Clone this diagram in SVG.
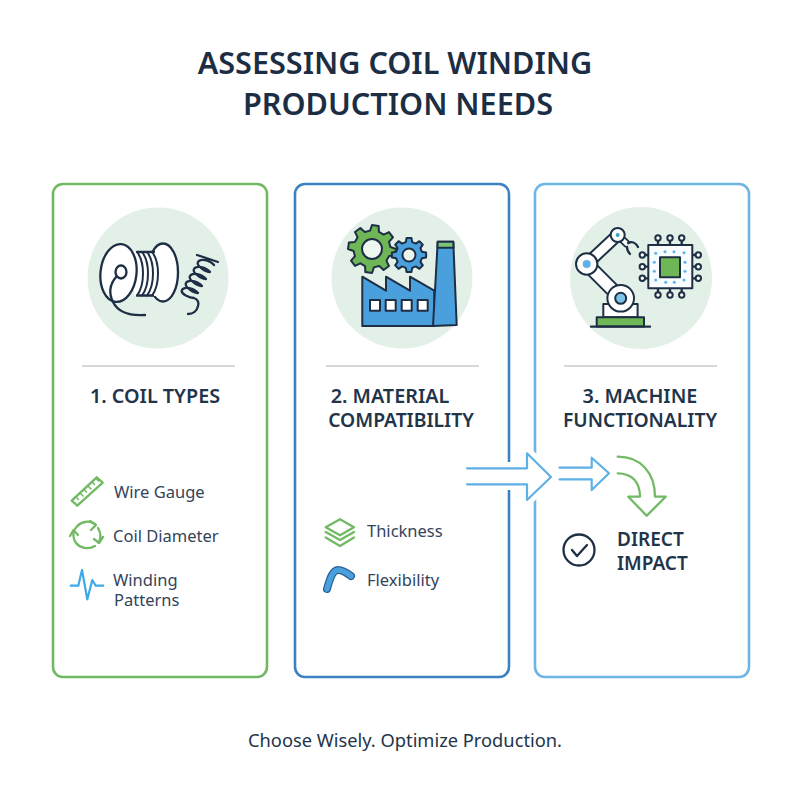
<svg xmlns="http://www.w3.org/2000/svg" width="800" height="800" viewBox="0 0 800 800">
<style>
text{font-family:"Noto Sans","Open Sans","Liberation Sans",sans-serif;fill:#22344a}
.title{font-size:30.600px;font-weight:600;text-anchor:middle;fill:#1c2e44}
.head{font-size:19.800px;font-weight:600;text-anchor:middle}
.head2{font-size:19.300px;font-weight:600;text-anchor:middle}
.item{font-size:16.500px;fill:#33445a}
.card{fill:#fff;stroke-width:2.600}
.disc{fill:#e3f0e8}
.rule{stroke:#c9cccc;stroke-width:1.600}
.ink{fill:none;stroke:#1e2f45;stroke-width:2.300;stroke-linecap:round;stroke-linejoin:round}
.solid{stroke:#1e2f45;stroke-width:2;stroke-linejoin:round}
.g{fill:none;stroke:#71ba63;stroke-width:2.300;stroke-linecap:round;stroke-linejoin:round}
.b{fill:none;stroke:#5fb0e6;stroke-width:2.200;stroke-linecap:round;stroke-linejoin:round}
.halo{fill:#fff;stroke:#fff;stroke-width:12}
.dot{fill:#5db4f0}
</style>
<defs>
<polygon id="gear" points="17.95,-4.48 23.77,-3.34 23.77,3.34 17.95,4.48 15.86,9.53 19.17,14.44 14.44,19.17 9.53,15.86 4.48,17.95 3.34,23.77 -3.34,23.77 -4.48,17.95 -9.53,15.86 -14.44,19.17 -19.17,14.44 -15.86,9.53 -17.95,4.48 -23.77,3.34 -23.77,-3.34 -17.95,-4.48 -15.86,-9.53 -19.17,-14.44 -14.44,-19.17 -9.53,-15.86 -4.48,-17.95 -3.34,-23.77 3.34,-23.77 4.48,-17.95 9.53,-15.86 14.44,-19.17 19.17,-14.44 15.86,-9.53"/>
</defs>
<rect width="800" height="800" fill="#fff"/>
<g id="title">
<text class="title" x="395" y="74">ASSESSING COIL WINDING</text>
<text class="title" x="398" y="115">PRODUCTION NEEDS</text>
</g>
<g id="card-1">
<rect class="card" x="53" y="184" width="214" height="493" rx="10" stroke="#71ba63"/>
<circle class="disc" cx="158" cy="278" r="70.500"/>
<g id="spool-icon">
<ellipse class="ink" style="fill:#fff" cx="163" cy="272.500" rx="15" ry="29"/>
<rect x="134" y="252" width="24" height="44" fill="#fff"/>
<path class="ink" d="M137 252H154M137 295.500H153"/>
<path class="ink" d="M137 252C145 262 145 285 137 295.500M142 252C150 262 150 285 142 295.500M147 252C155 262 155 285 147 295.500M152 252C160 262 160 285 152 295.500" style="stroke-width:2"/>
<ellipse class="ink" style="fill:#fff" cx="118.500" cy="273" rx="18" ry="29" transform="rotate(6 118.500 273)"/>
<ellipse class="ink" cx="121" cy="272" rx="5.500" ry="6.500"/>
<path class="ink" d="M116 277C111 283 108 292 113 302C118 312 130 316 145 315"/>
<path class="ink" d="M197 255L218 262M214 265c-4 -5 -14 -7 -16 -3c-2 4 8 10 12 10c-4 -5 -14 -7 -16 -3c-2 4 8 10 12 10c-4 -5 -14 -7 -16 -3c-2 4 8 10 12 10c-4 -5 -14 -7 -16 -3c-2 4 8 10 12 10c-4 -5 -14 -7 -16 -3c-2 4 8 8 12 8c4 1 5 5 4 8c-1 5 -5 8 -10 8"/>
</g>
<line class="rule" x1="82" y1="366" x2="235" y2="366"/>
<text class="head" x="155" y="403">1. COIL TYPES</text>
<g id="wire-gauge">
<polygon class="g" points="71.700,500.700 96.700,477.300 102.700,482.700 77.300,505.700"/>
<path class="g" style="stroke-width:1.500" d="M76 497l2.500 2.500M80 493l3 3M84 489.500l2.500 2.500M88 486l3 3M92 482l2.500 2.500M96 478.500l2.500 2.500"/>
<text class="item" x="114" y="498">Wire Gauge</text>
</g>
<g id="coil-diameter">
<path class="g" d="M75 529C80 521 89 520 95 524M98 528C101 533 101 538 99 542M95 546C88 550 80 548 76 543C74 540 73 536 73.500 532"/>
<path class="g" d="M70 536L73.500 530L78 535M90 521L96 525L91 530M103 537L99 543L94 539"/>
<text class="item" x="113" y="542">Coil Diameter</text>
</g>
<g id="winding-patterns">
<polyline class="b" style="stroke:#3fa9e8" points="70.700,585.700 78.300,585.700 82,570 87.300,599.300 92.300,580 95.700,585.700 103.300,585.700"/>
<text class="item" x="113" y="586">Winding</text>
<text class="item" x="114" y="606">Patterns</text>
</g>
</g>
<g id="card-2">
<rect class="card" x="295" y="184" width="214" height="493" rx="10" stroke="#3b82c0"/>
<circle class="disc" cx="402" cy="278" r="70.500"/>
<g id="factory-icon">
<use href="#gear" transform="translate(372 249) rotate(8)" fill="#6fb756" class="solid"/>
<circle cx="372" cy="249" r="10" fill="#eef6f0" class="solid"/>
<use href="#gear" transform="translate(409 255) scale(.72)" fill="#4a9fdd" class="solid" style="stroke-width:2.800"/>
<circle cx="409" cy="255" r="6.500" fill="#eef6f0" class="solid"/>
<polygon class="solid" fill="#4a9fdd" points="362.300,326 362.300,276.700 386,290.700 386,276.700 410,290.700 410,276.700 434.300,290.700 434.300,326"/>
<polygon class="solid" fill="#4a9fdd" points="437.700,241.700 453.300,241.700 456.700,325 433,326"/>
<polygon class="solid" fill="#7cc47a" points="437.700,241.700 453.300,241.700 453.500,247.700 437.500,247.700"/>
<g fill="#fff" class="solid">
<rect x="370" y="300" width="10" height="10.700"/>
<rect x="385.700" y="300" width="10" height="10.700"/>
<rect x="401.700" y="300" width="10" height="10.700"/>
<rect x="417.700" y="300" width="10" height="10.700"/>
</g>
</g>
<line class="rule" x1="326" y1="366" x2="479" y2="366"/>
<text class="head" x="390" y="403">2. MATERIAL</text>
<text class="head2" x="401" y="427">COMPATIBILITY</text>
<g id="thickness">
<polygon class="g" points="340,519.300 354,527.300 340,535.300 325.700,527.300"/>
<path class="g" d="M325.700 532L340 540L354 532M325.700 537.500L340 546L354 537.500"/>
<text class="item" x="367" y="537">Thickness</text>
</g>
<g id="flexibility">
<path d="M327 589C330 578 333 570 338 570C342 570 347 573 351 576" fill="none" stroke="#2b5f94" stroke-width="8" stroke-linecap="round"/>
<path d="M327 589C330 578 333 570 338 570C342 570 347 573 351 576" fill="none" stroke="#4a9fdd" stroke-width="5.500" stroke-linecap="round"/>
<text class="item" x="367" y="586">Flexibility</text>
</g>
</g>
<g id="card-3">
<rect class="card" x="535" y="184" width="214" height="493" rx="10" stroke="#6cb5e4"/>
<circle class="disc" cx="641" cy="278" r="71"/>
<g id="robot-icon">
<line x1="586.700" y1="264" x2="620.700" y2="298" stroke="#1e2f45" stroke-width="15"/>
<line x1="586.700" y1="264" x2="620.700" y2="298" stroke="#fff" stroke-width="11"/>
<line x1="586.700" y1="264" x2="617.700" y2="235" stroke="#1e2f45" stroke-width="13"/>
<line x1="586.700" y1="264" x2="617.700" y2="235" stroke="#fff" stroke-width="9"/>
<line x1="617.700" y1="235" x2="628" y2="245" stroke="#1e2f45" stroke-width="8"/>
<line x1="617.700" y1="235" x2="628" y2="245" stroke="#fff" stroke-width="4.500"/>
<path class="ink" d="M628 243C632 241 636 243 638 247M627 247C627 250 628 252 630 254"/>
<rect class="solid" x="603.300" y="304" width="34.300" height="13.300" fill="#fff"/>
<rect class="solid" x="596.700" y="317.300" width="47.300" height="9.300" fill="#6fb756"/>
<line class="ink" x1="591" y1="326.700" x2="650" y2="326.700"/>
<circle class="solid" cx="620.700" cy="298.300" r="13.300" fill="#fff"/>
<circle class="solid" cx="620.700" cy="298.300" r="5.500" fill="#7cc3e8"/>
<circle class="solid" cx="586.700" cy="264" r="10.700" fill="#fff"/>
<circle cx="586.700" cy="264" r="4" fill="#5fb0e6"/>
<circle class="solid" cx="617.700" cy="235" r="7" fill="#fff"/>
<circle cx="617.700" cy="235" r="2" fill="#3fa0c0"/>
<path class="ink" d="M658 238V245M670 238V245M681.700 238V245M658 295V288M670 295V288M681.700 295V288M642.300 255H648M642.300 266.700H648M642.300 278.300H648M698.300 255H692M698.300 266.700H692M698.300 278.300H692"/>
<g fill="#fff" class="solid">
<circle cx="658" cy="238" r="2.700"/><circle cx="670" cy="238" r="2.700"/><circle cx="681.700" cy="238" r="2.700"/>
<circle cx="658" cy="295" r="2.700"/><circle cx="670" cy="295" r="2.700"/><circle cx="681.700" cy="295" r="2.700"/>
<circle cx="642.300" cy="255" r="2.700"/><circle cx="642.300" cy="266.700" r="2.700"/><circle cx="642.300" cy="278.300" r="2.700"/>
<circle cx="698.300" cy="255" r="2.700"/><circle cx="698.300" cy="266.700" r="2.700"/><circle cx="698.300" cy="278.300" r="2.700"/>
</g>
<rect class="solid" x="648.300" y="245" width="44" height="43.300" fill="#f8fcfe"/>
<rect class="solid" x="660" y="257.300" width="20" height="20" fill="#6fb756"/>
<g class="dot">
<circle cx="655.700" cy="253.300" r="1.500"/><circle cx="665" cy="251.700" r="1.500"/><circle cx="674" cy="251.700" r="1.500"/><circle cx="684" cy="252.700" r="1.500"/>
<circle cx="654.300" cy="262.300" r="1.500"/><circle cx="654.300" cy="271.300" r="1.500"/><circle cx="685" cy="262.300" r="1.500"/><circle cx="685" cy="271.300" r="1.500"/>
<circle cx="655.700" cy="280" r="1.500"/><circle cx="665.700" cy="282.300" r="1.500"/><circle cx="674.300" cy="282.300" r="1.500"/><circle cx="684" cy="280" r="1.500"/>
</g>
</g>
<line class="rule" x1="564" y1="366" x2="717" y2="366"/>
<text class="head" x="640" y="403">3. MACHINE</text>
<text class="head2" x="640" y="427">FUNCTIONALITY</text>
<g id="direct-impact">
<circle class="ink" cx="579" cy="550" r="15.500"/>
<path class="ink" d="M572 550L577 556L587 545"/>
<text x="617" y="546" style="font-size:19px;font-weight:600">DIRECT</text>
<text x="617" y="570" style="font-size:19px;font-weight:600">IMPACT</text>
</g>
</g>
<g id="connectors">
<polygon class="halo" points="467,468 527,468 527,453 551,477 527,500 527,484 467,484"/>
<path class="b" d="M467 468.300H527V453.300L551 477L527 500V484.300H467"/>
<path class="b" d="M559.500 467.700H591.700V457.700L609 473.300L591.700 490V479.300H559.500"/>
<path class="g" d="M617.700 456.700C640 456.700 655 472 655 496.700H665.700L646.700 515.700L628.300 496.700H640C640 482 632 473.300 617.700 473.300"/>
</g>
<text id="tagline" x="405" y="747" text-anchor="middle" style="font-size:18.300px">Choose Wisely. Optimize Production.</text>
</svg>
